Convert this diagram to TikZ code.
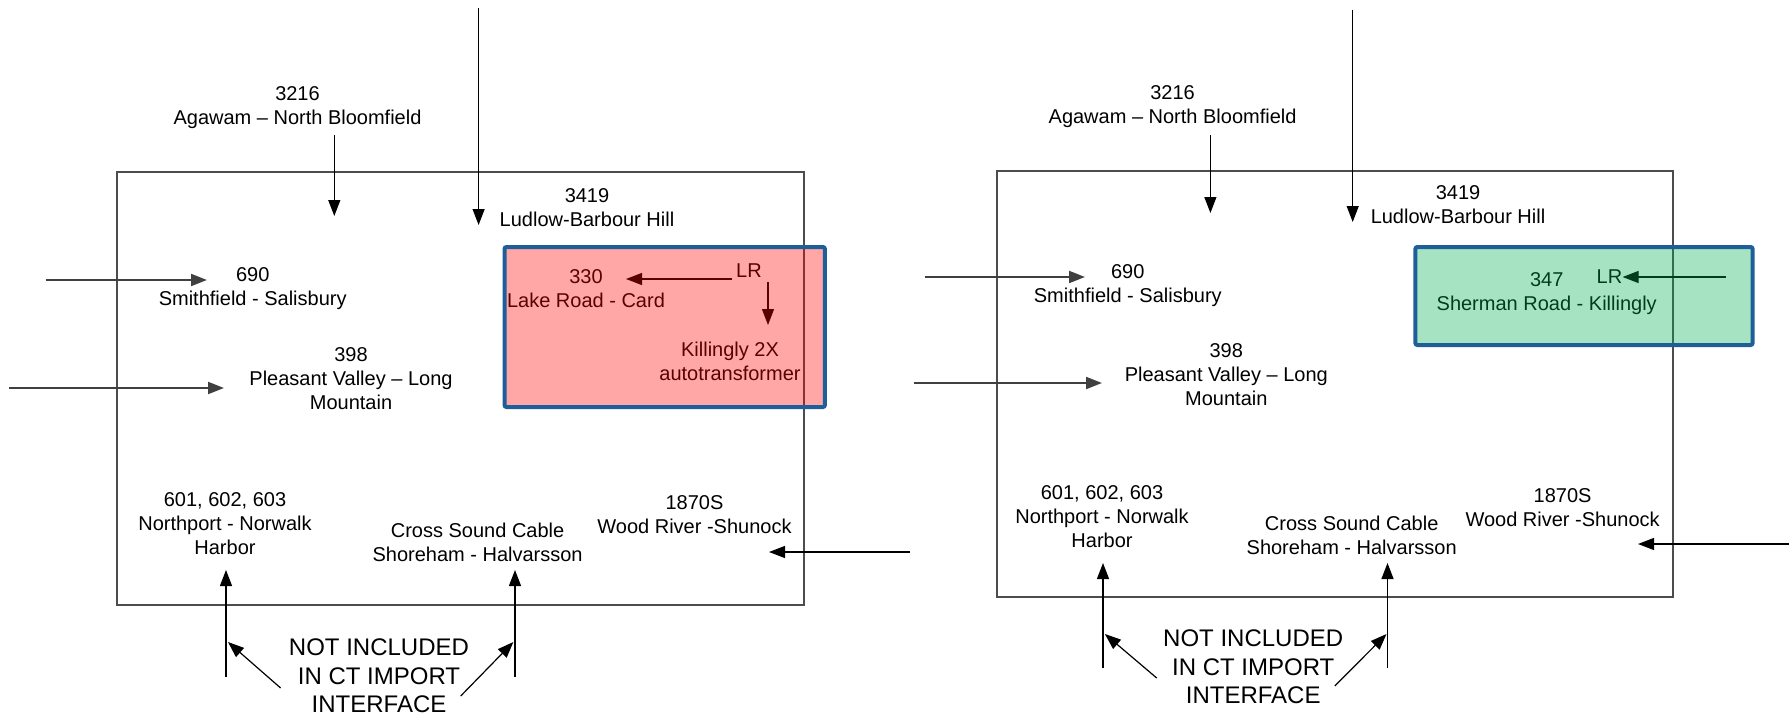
\documentclass[tikz,border=0pt]{standalone}
\usepackage{fontspec}
\setmainfont{Liberation Sans}
\usetikzlibrary{arrows.meta}
\definecolor{bordblue}{RGB}{31,95,153}
\definecolor{boxred}{RGB}{255,0,0}
\definecolor{boxgreen}{RGB}{0,176,80}
\begin{document}
\begin{tikzpicture}[x=0.5pt,y=-0.5pt,
  lbl/.style={align=center,inner sep=0pt,font=\fontsize{10}{12}\selectfont},
  big/.style={align=center,inner sep=0pt,font=\fontsize{12}{14.2}\selectfont},
  arr/.style={-{Triangle[length=8pt,width=6pt]},line width=0.6pt,black},
  garr/.style={-{Triangle[length=8pt,width=6pt]},line width=1pt,black!75},
  frame/.style={draw=black!70,line width=1pt},
  hl/.style={draw=bordblue,line width=2pt,fill opacity=0.35,rounded corners=1pt}]
\useasboundingbox (0,0) rectangle (1789,717);

% ===== Left panel =====
\node[frame,minimum width=343.3pt,minimum height=216.5pt,inner sep=0pt] (frameL) at (460.7,388.5) {};
\node[lbl] (n3216L) at (297.5,108) {3216\\Agawam – North Bloomfield};
\node[lbl] (n3419L) at (587,208) {3419\\Ludlow-Barbour Hill};
\node[lbl] (n690L) at (252.7,289) {690\\Smithfield - Salisbury};
\node[lbl] (n398L) at (351,379) {398\\Pleasant Valley – Long\\Mountain};
\node[lbl] (n330) at (586,289) {330\\Lake Road - Card};
\node[lbl] (LRL) at (749,271) {LR};
\node[lbl] (kill) at (730,361) {Killingly 2X\\autotransformer};
\node[lbl] (n601L) at (225,524) {601, 602, 603\\Northport - Norwalk\\Harbor};
\node[lbl] (csL) at (477.6,542) {Cross Sound Cable\\Shoreham - Halvarsson};
\node[lbl] (n1870L) at (694.5,515) {1870S\\Wood River -Shunock};
\node[big] (notL) at (379,676) {NOT INCLUDED\\IN CT IMPORT\\INTERFACE};

\coordinate (a1s) at (334.3,135); \coordinate (a1e) at (334.3,216);
\coordinate (a2s) at (478.6,8);   \coordinate (a2e) at (478.6,225);
\coordinate (a3s) at (45.8,280);  \coordinate (a3e) at (207,280);
\coordinate (a4s) at (9,388);     \coordinate (a4e) at (224,388);
\coordinate (a5s) at (732,279);   \coordinate (a5e) at (626,279);
\coordinate (a6s) at (768,282);   \coordinate (a6e) at (768,325);
\coordinate (a7s) at (910,552);   \coordinate (a7e) at (769,552);
\coordinate (a8s) at (226,677);   \coordinate (a8e) at (226,570);
\coordinate (a9s) at (515,677);   \coordinate (a9e) at (515,570);
\coordinate (d1s) at (280.6,688); \coordinate (d1e) at (228,642);
\coordinate (d2s) at (460.7,696); \coordinate (d2e) at (513.4,642);

\draw[arr] (a1s) -- (a1e);
\draw[arr] (a2s) -- (a2e);
\draw[garr] (a3s) -- (a3e);
\draw[garr] (a4s) -- (a4e);
\draw[arr] (a5s) -- (a5e);
\draw[arr] (a6s) -- (a6e);
\draw[arr] (a7s) -- (a7e);
\draw[arr] (a8s) -- (a8e);
\draw[arr] (a9s) -- (a9e);
\draw[arr] (d1s) -- (d1e);
\draw[arr] (d2s) -- (d2e);

\node[hl,fill=boxred,minimum width=160.2pt,minimum height=80pt,inner sep=0pt] (redbox) at (664.7,327) {};

% ===== Right panel =====
\node[frame,minimum width=338.2pt,minimum height=213pt,inner sep=0pt] (frameR) at (1334.8,384) {};
\node[lbl] (n3216R) at (1172.6,107) {3216\\Agawam – North Bloomfield};
\node[lbl] (n3419R) at (1458,205) {3419\\Ludlow-Barbour Hill};
\node[lbl] (n690R) at (1127.8,286) {690\\Smithfield - Salisbury};
\node[lbl] (n398R) at (1226.3,375) {398\\Pleasant Valley – Long\\Mountain};
\node[lbl] (n347) at (1546.7,294) {347\\Sherman Road - Killingly};
\node[lbl] (LRR) at (1609.4,277) {LR};
\node[lbl] (n601R) at (1102,517) {601, 602, 603\\Northport - Norwalk\\Harbor};
\node[lbl] (csR) at (1351.7,535) {Cross Sound Cable\\Shoreham - Halvarsson};
\node[lbl] (n1870R) at (1562.6,508) {1870S\\Wood River -Shunock};
\node[big] (notR) at (1253.2,667) {NOT INCLUDED\\IN CT IMPORT\\INTERFACE};

\coordinate (b1s) at (1210.4,135); \coordinate (b1e) at (1210.4,213);
\coordinate (b2s) at (1352.7,10);  \coordinate (b2e) at (1352.7,222);
\coordinate (b3s) at (924.8,277);  \coordinate (b3e) at (1085,277);
\coordinate (b4s) at (914,383);    \coordinate (b4e) at (1102,383);
\coordinate (b5s) at (1725.8,277);
\coordinate (b7s) at (1789,544);   \coordinate (b7e) at (1638,544);
\coordinate (b8s) at (1103,668);   \coordinate (b8e) at (1103,563);
\coordinate (b9s) at (1387.5,668); \coordinate (b9e) at (1387.5,563);
\coordinate (e1s) at (1156.7,678); \coordinate (e1e) at (1104.9,634);
\coordinate (e2s) at (1334.8,686); \coordinate (e2e) at (1386.5,634);

\draw[arr] (b1s) -- (b1e);
\draw[arr] (b2s) -- (b2e);
\draw[garr] (b3s) -- (b3e);
\draw[garr] (b4s) -- (b4e);
\draw[arr] (b5s) -- (LRR.east);
\draw[arr] (b7s) -- (b7e);
\draw[arr] (b8s) -- (b8e);
\draw[arr] (b9s) -- (b9e);
\draw[arr] (e1s) -- (e1e);
\draw[arr] (e2s) -- (e2e);

\node[hl,fill=boxgreen,minimum width=168.6pt,minimum height=49pt,inner sep=0pt] (greenbox) at (1584,296) {};
\end{tikzpicture}
\end{document}
